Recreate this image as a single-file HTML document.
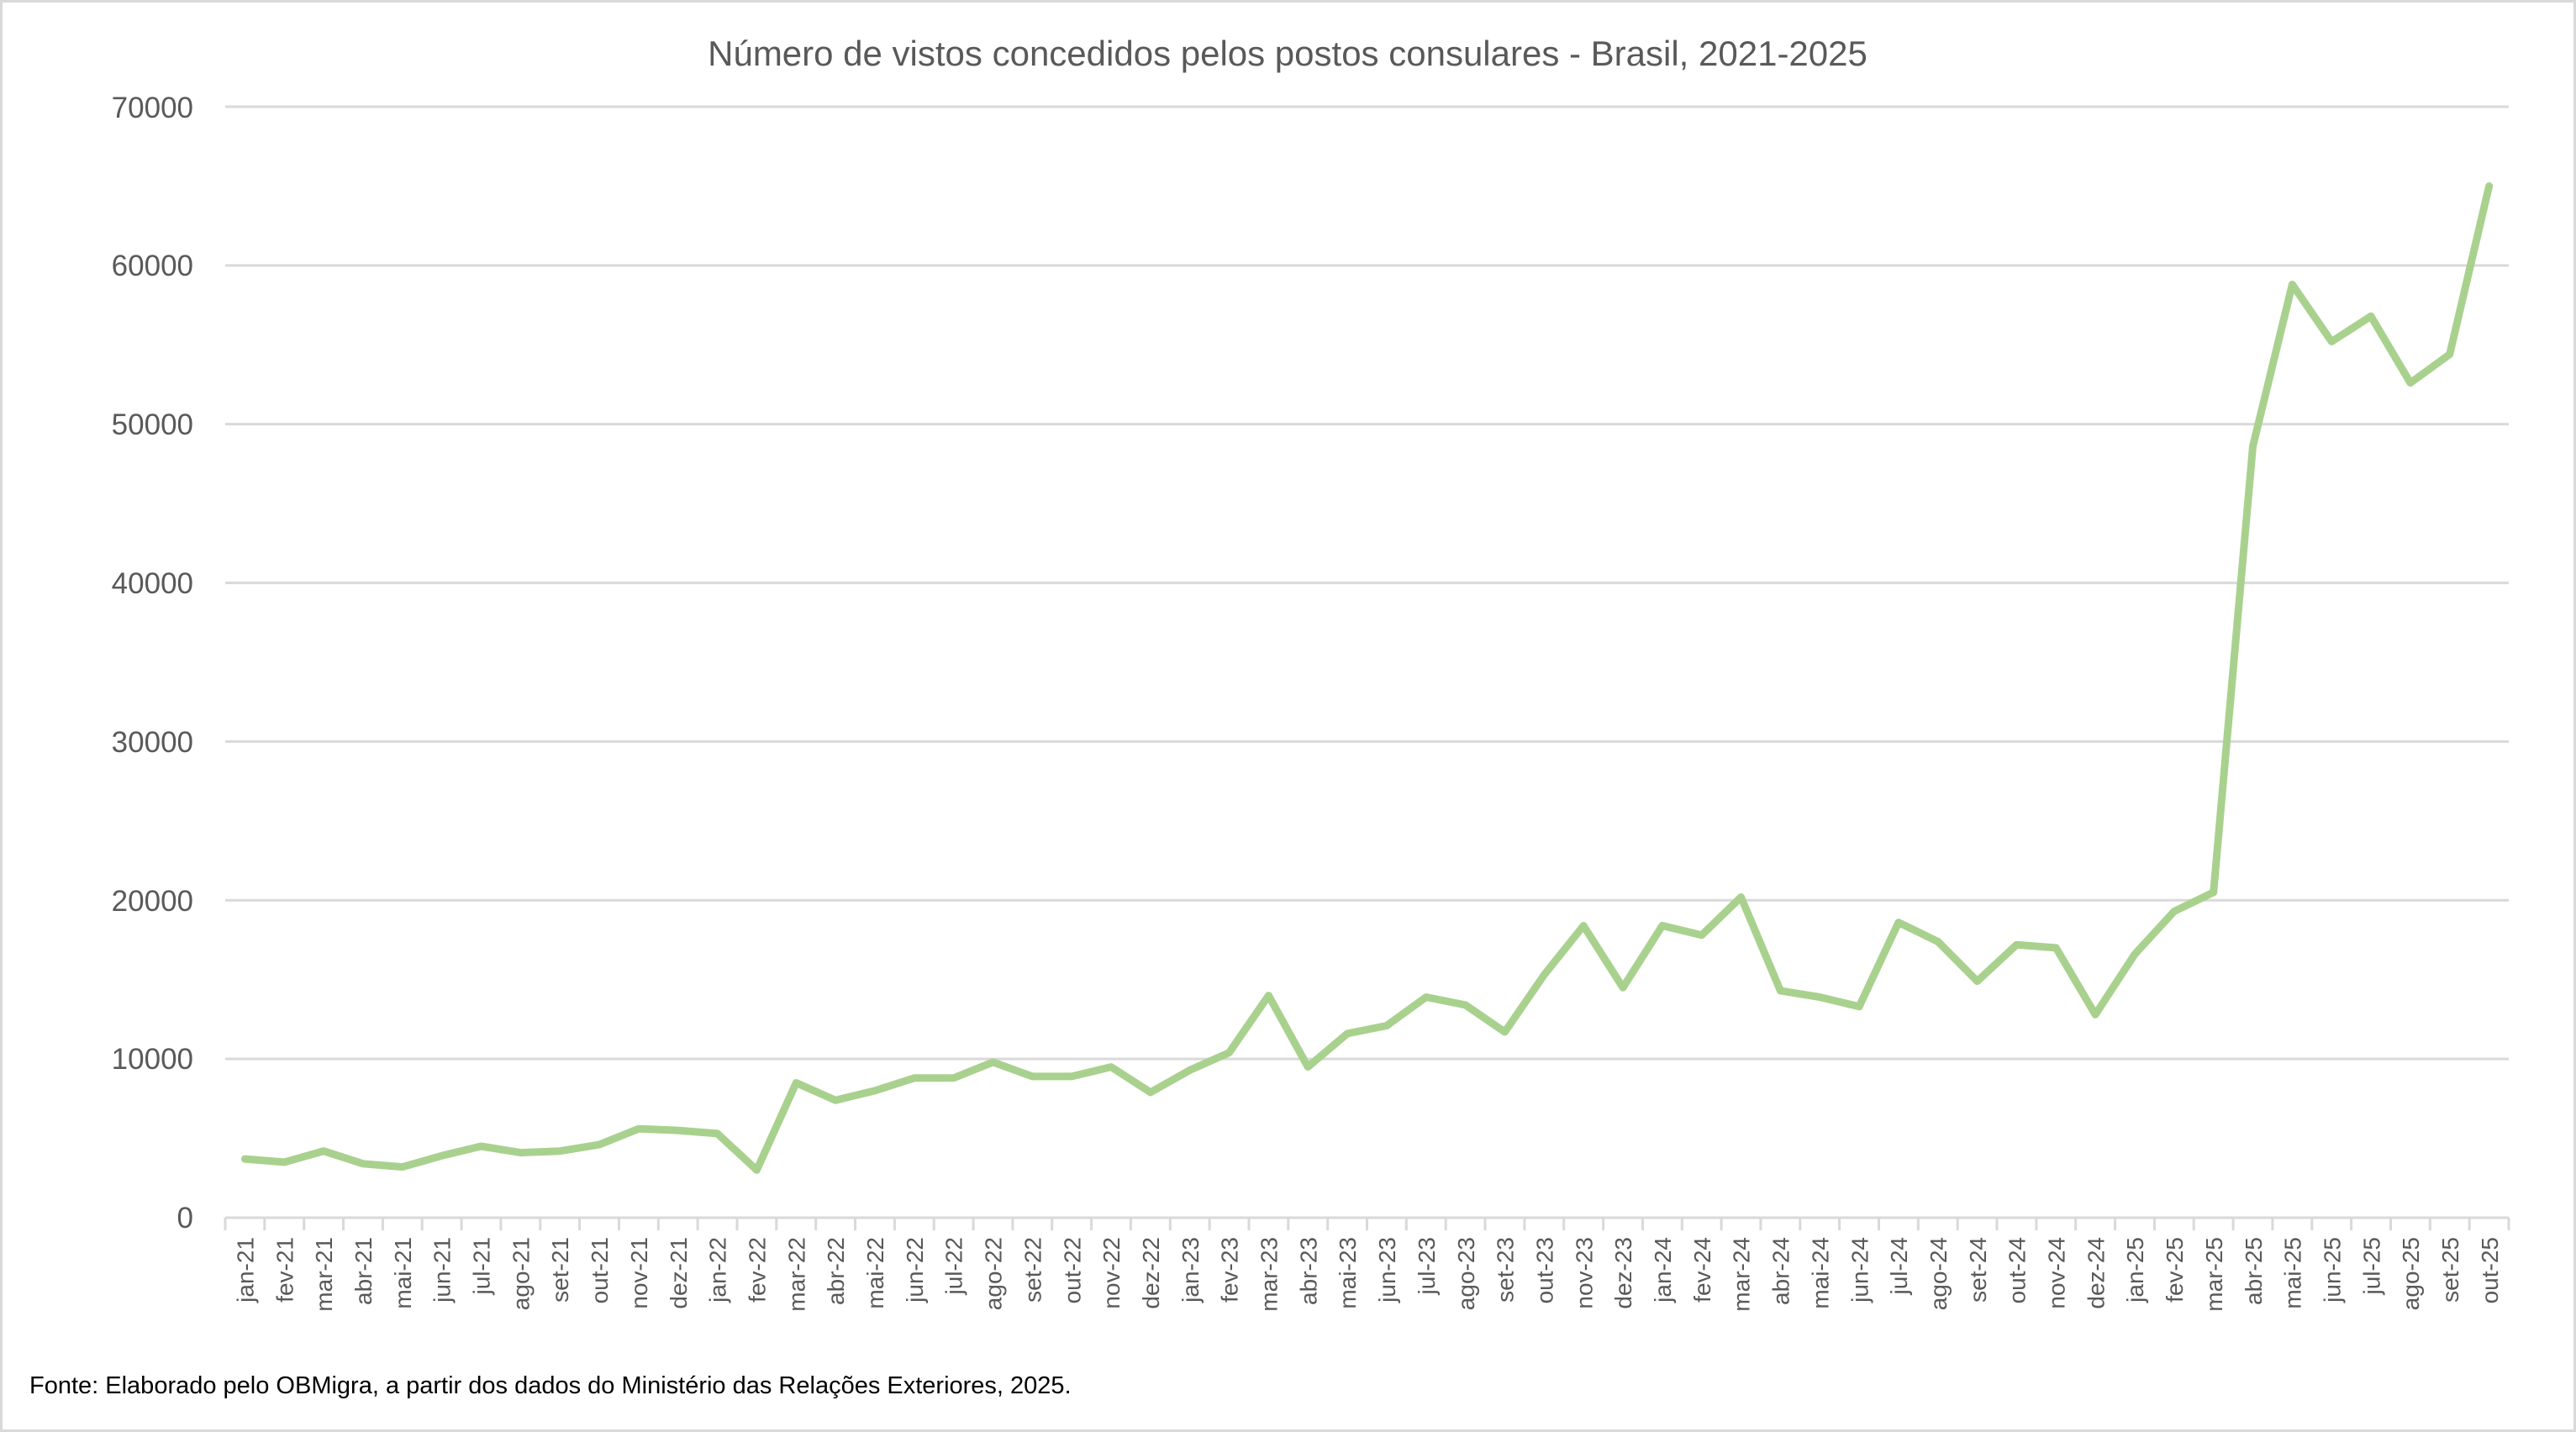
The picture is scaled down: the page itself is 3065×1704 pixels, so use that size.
<!DOCTYPE html>
<html><head><meta charset="utf-8"><style>
html,body{margin:0;padding:0;background:#fff}
svg{display:block}
text{font-family:"Liberation Sans",sans-serif}
</style></head><body>
<svg id="s" width="3065" height="1704" viewBox="0 0 3065 1704" xmlns="http://www.w3.org/2000/svg">
<rect x="1.5" y="1.5" width="3062" height="1701" fill="#fff" stroke="#d9d9d9" stroke-width="3"/>
<text x="1532" y="78" text-anchor="middle" font-size="42" fill="#595959">Número de vistos concedidos pelos postos consulares - Brasil, 2021-2025</text>
<g stroke="#d9d9d9" stroke-width="3">
<line x1="268" x2="2985" y1="127" y2="127"/>
<line x1="268" x2="2985" y1="315.9" y2="315.9"/>
<line x1="268" x2="2985" y1="504.7" y2="504.7"/>
<line x1="268" x2="2985" y1="693.6" y2="693.6"/>
<line x1="268" x2="2985" y1="882.4" y2="882.4"/>
<line x1="268" x2="2985" y1="1071.3" y2="1071.3"/>
<line x1="268" x2="2985" y1="1260.1" y2="1260.1"/>
<line x1="268" x2="2985" y1="1449" y2="1449"/>
</g>
<g id="ticks" stroke="#d9d9d9" stroke-width="3"></g>
<g font-size="35" fill="#595959" text-anchor="end">
<text x="230" y="140">70000</text>
<text x="230" y="328">60000</text>
<text x="230" y="517">50000</text>
<text x="230" y="706">40000</text>
<text x="230" y="895">30000</text>
<text x="230" y="1084">20000</text>
<text x="230" y="1272">10000</text>
<text x="230" y="1461">0</text>
</g>
<g id="lbl" font-size="28" fill="#595959" text-anchor="end">
<text transform="translate(301.4,1472) rotate(-90)">jan-21</text>
<text transform="translate(348.3,1472) rotate(-90)">fev-21</text>
<text transform="translate(395.1,1472) rotate(-90)">mar-21</text>
<text transform="translate(442,1472) rotate(-90)">abr-21</text>
<text transform="translate(488.8,1472) rotate(-90)">mai-21</text>
<text transform="translate(535.7,1472) rotate(-90)">jun-21</text>
<text transform="translate(582.5,1472) rotate(-90)">jul-21</text>
<text transform="translate(629.4,1472) rotate(-90)">ago-21</text>
<text transform="translate(676.2,1472) rotate(-90)">set-21</text>
<text transform="translate(723.1,1472) rotate(-90)">out-21</text>
<text transform="translate(769.9,1472) rotate(-90)">nov-21</text>
<text transform="translate(816.8,1472) rotate(-90)">dez-21</text>
<text transform="translate(863.6,1472) rotate(-90)">jan-22</text>
<text transform="translate(910.5,1472) rotate(-90)">fev-22</text>
<text transform="translate(957.3,1472) rotate(-90)">mar-22</text>
<text transform="translate(1004.2,1472) rotate(-90)">abr-22</text>
<text transform="translate(1051,1472) rotate(-90)">mai-22</text>
<text transform="translate(1097.9,1472) rotate(-90)">jun-22</text>
<text transform="translate(1144.7,1472) rotate(-90)">jul-22</text>
<text transform="translate(1191.6,1472) rotate(-90)">ago-22</text>
<text transform="translate(1238.4,1472) rotate(-90)">set-22</text>
<text transform="translate(1285.3,1472) rotate(-90)">out-22</text>
<text transform="translate(1332.1,1472) rotate(-90)">nov-22</text>
<text transform="translate(1379,1472) rotate(-90)">dez-22</text>
<text transform="translate(1425.8,1472) rotate(-90)">jan-23</text>
<text transform="translate(1472.7,1472) rotate(-90)">fev-23</text>
<text transform="translate(1519.5,1472) rotate(-90)">mar-23</text>
<text transform="translate(1566.4,1472) rotate(-90)">abr-23</text>
<text transform="translate(1613.2,1472) rotate(-90)">mai-23</text>
<text transform="translate(1660.1,1472) rotate(-90)">jun-23</text>
<text transform="translate(1706.9,1472) rotate(-90)">jul-23</text>
<text transform="translate(1753.8,1472) rotate(-90)">ago-23</text>
<text transform="translate(1800.6,1472) rotate(-90)">set-23</text>
<text transform="translate(1847.5,1472) rotate(-90)">out-23</text>
<text transform="translate(1894.3,1472) rotate(-90)">nov-23</text>
<text transform="translate(1941.2,1472) rotate(-90)">dez-23</text>
<text transform="translate(1988,1472) rotate(-90)">jan-24</text>
<text transform="translate(2034.9,1472) rotate(-90)">fev-24</text>
<text transform="translate(2081.7,1472) rotate(-90)">mar-24</text>
<text transform="translate(2128.6,1472) rotate(-90)">abr-24</text>
<text transform="translate(2175.4,1472) rotate(-90)">mai-24</text>
<text transform="translate(2222.3,1472) rotate(-90)">jun-24</text>
<text transform="translate(2269.1,1472) rotate(-90)">jul-24</text>
<text transform="translate(2316,1472) rotate(-90)">ago-24</text>
<text transform="translate(2362.8,1472) rotate(-90)">set-24</text>
<text transform="translate(2409.7,1472) rotate(-90)">out-24</text>
<text transform="translate(2456.5,1472) rotate(-90)">nov-24</text>
<text transform="translate(2503.4,1472) rotate(-90)">dez-24</text>
<text transform="translate(2550.2,1472) rotate(-90)">jan-25</text>
<text transform="translate(2597.1,1472) rotate(-90)">fev-25</text>
<text transform="translate(2643.9,1472) rotate(-90)">mar-25</text>
<text transform="translate(2690.8,1472) rotate(-90)">abr-25</text>
<text transform="translate(2737.6,1472) rotate(-90)">mai-25</text>
<text transform="translate(2784.5,1472) rotate(-90)">jun-25</text>
<text transform="translate(2831.3,1472) rotate(-90)">jul-25</text>
<text transform="translate(2878.2,1472) rotate(-90)">ago-25</text>
<text transform="translate(2925,1472) rotate(-90)">set-25</text>
<text transform="translate(2971.9,1472) rotate(-90)">out-25</text>
</g>
<polyline id="ln" fill="none" stroke="#a9d18e" stroke-width="9" stroke-linejoin="round" stroke-linecap="round" points=""/>
<text x="35" y="1658" font-size="29" fill="#000">Fonte: Elaborado pelo OBMigra, a partir dos dados do Ministério das Relações Exteriores, 2025.</text>
</svg>
<script>
var d=[3700,3500,4200,3400,3200,3900,4500,4100,4200,4600,5600,5500,5300,3000,8500,7400,8000,8800,8800,9800,8900,8900,9500,7900,9300,10400,14000,9500,11600,12100,13900,13400,11700,15300,18400,14500,18400,17800,20200,14300,13900,13300,18600,17400,14900,17200,17000,12800,16600,19300,20500,48600,58800,55200,56800,52600,54400,65000];
var w=(2985-268)/58,p=[];
for(var i=0;i<d.length;i++){p.push((268+w*(i+0.5)).toFixed(1)+","+(1449-d[i]*0.018886).toFixed(1));}
document.getElementById("ln").setAttribute("points",p.join(" "));
var t="";for(var k=0;k<=58;k++){var x=(268+w*k).toFixed(1);t+='<line x1="'+x+'" x2="'+x+'" y1="1449" y2="1464"/>';}
document.getElementById("ticks").innerHTML=t;
</script>
</body></html>
